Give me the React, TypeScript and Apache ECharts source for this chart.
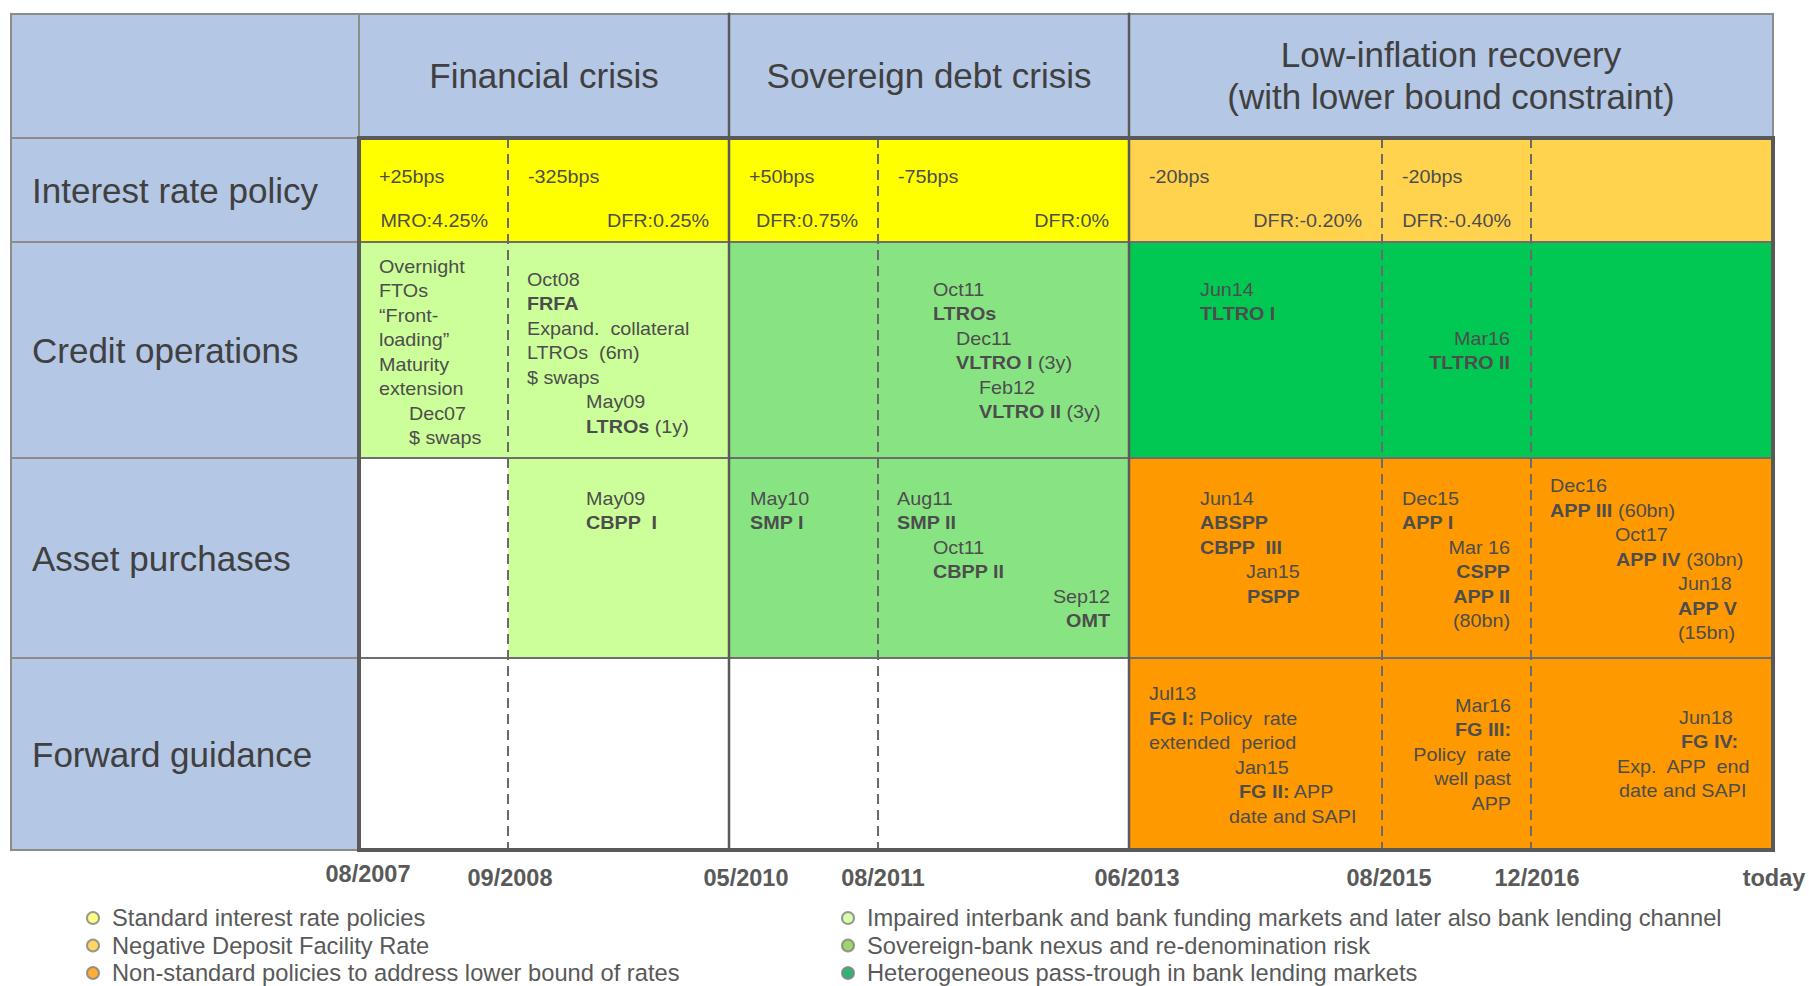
import React, { useEffect, useRef } from 'react';
import * as echarts from 'echarts';

// ---------------- data ----------------
const boundaryLabels = ['08/2007', '09/2008', '05/2010', '08/2011', '06/2013', '08/2015', '12/2016', 'today'];
const eraNames = ['Financial crisis', 'Sovereign debt crisis', 'Low-inflation recovery\n(with lower bound constraint)'];
const eraStarts = [0, 2, 4]; // boundary index where each era starts
const eraEnds = [2, 4, 7]; // boundary index where each era ends
const rowLabels = ['Interest rate policy', 'Credit operations', 'Asset purchases', 'Forward guidance'];

const rateMoves = ['+25bps', '-325bps', '+50bps', '-75bps', '-20bps', '-20bps', ''];
const rateLevels = ['MRO:4.25%', 'DFR:0.25%', 'DFR:0.75%', 'DFR:0%', 'DFR:-0.20%', 'DFR:-0.40%', ''];

// colour class of each period (7 periods) for each policy row
const rateCells = ['std', 'std', 'std', 'std', 'neg', 'neg', 'neg'];
const creditCells = ['funding', 'funding', 'nexus', 'nexus', 'passThrough', 'passThrough', 'passThrough'];
const assetCells = ['none', 'funding', 'nexus', 'nexus', 'nonStd', 'nonStd', 'nonStd'];
const guidanceCells = ['none', 'none', 'none', 'none', 'nonStd', 'nonStd', 'nonStd'];

const creditNotes = [
  { period: 0, lines: ['Overnight', 'FTOs', '\u201CFront-', 'loading\u201D', 'Maturity', 'extension', 'Dec07', '$ swaps'] },
  { period: 1, lines: ['Oct08', '**FRFA**', 'Expand.  collateral', 'LTROs  (6m)', '$ swaps', 'May09', '**LTROs** (1y)'] },
  { period: 3, lines: ['Oct11', '**LTROs**', 'Dec11', '**VLTRO I** (3y)', 'Feb12', '**VLTRO II** (3y)'] },
  { period: 4, lines: ['Jun14', '**TLTRO I**'] },
  { period: 5, lines: ['Mar16', '**TLTRO II**'] },
];
const assetNotes = [
  { period: 1, lines: ['May09', '**CBPP  I**'] },
  { period: 2, lines: ['May10', '**SMP I**'] },
  { period: 3, lines: ['Aug11', '**SMP II**', 'Oct11', '**CBPP II**'] },
  { period: 3, lines: ['Sep12', '**OMT**'] },
  { period: 4, lines: ['Jun14', '**ABSPP**', '**CBPP  III**', 'Jan15', '**PSPP**'] },
  { period: 5, lines: ['Dec15', '**APP I**'] },
  { period: 5, lines: ['Mar 16', '**CSPP**', '**APP II**', '(80bn)'] },
  { period: 6, lines: ['Dec16', '**APP III** (60bn)', 'Oct17', '**APP IV** (30bn)', 'Jun18', '**APP V**', '(15bn)'] },
];
const guidanceNotes = [
  { period: 4, lines: ['Jul13', '**FG I:** Policy  rate', 'extended  period', 'Jan15', '**FG II:** APP', 'date and SAPI'] },
  { period: 5, lines: ['Mar16', '**FG III:**', 'Policy  rate', 'well past', 'APP'] },
  { period: 6, lines: ['Jun18', '**FG IV:**', 'Exp.  APP  end', 'date and SAPI'] },
];

const legendLeft = ['Standard interest rate policies', 'Negative Deposit Facility Rate', 'Non-standard policies to address lower bound of rates'];
const legendLeftKeys = ['std', 'neg', 'nonStd'];
const legendRight = ['Impaired interbank and bank funding markets and later also bank lending channel', 'Sovereign-bank nexus and re-denomination risk', 'Heterogeneous pass-trough in bank lending markets'];
const legendRightKeys = ['funding', 'nexus', 'passThrough'];

// ---------------- layout & style ----------------
const FONT = "'Liberation Sans', Arial, Helvetica, sans-serif";
const COL_W = [348, 149, 221, 149, 251, 253, 149, 242];
const ROW_H = [124, 104, 216, 200, 192];
const LINE = 24.5;
const PAD = 20;
const SMALL = 19;
const SX = 1.04;
const LEGEND_LEFT_X = [86, 841];
const LEGEND_TOP = 906;
const LEGEND_STEP = 27.5;
const LEGEND_FONT = 23.7;
const TICK_FONT = 23.5;
const TICK_SHIFT = [9, 2, 17, 5, 8, 7, 6, 1]; // horizontal nudge of each boundary label
const TICK_DROP = [0, 4, 4, 4, 4, 4, 4, 4]; // vertical nudge of each boundary label

const NOTE_LAYOUT: Record<string, { dy: number; dx: number[]; right?: boolean }[]> = {
  credit: [
    { dy: 24, dx: [20, 20, 20, 20, 20, 20, 50, 50] },
    { dy: 37, dx: [19, 19, 19, 19, 19, 78, 78] },
    { dy: 47, dx: [55, 55, 78, 78, 101, 101] },
    { dy: 47, dx: [71, 71] },
    { dy: 96, dx: [21, 21], right: true },
  ],
  asset: [
    { dy: 40, dx: [78, 78] },
    { dy: 40, dx: [21, 21] },
    { dy: 40, dx: [19, 19, 55, 55] },
    { dy: 138, dx: [19, 19], right: true },
    { dy: 40, dx: [71, 71, 71, 117, 118] },
    { dy: 40, dx: [20, 20] },
    { dy: 89, dx: [21, 21, 21, 21], right: true },
    { dy: 27.5, dx: [19, 19, 84, 85, 147, 147, 147] },
  ],
  guidance: [
    { dy: 35.5, dx: [20, 20, 20, 106, 110, 100] },
    { dy: 47, dx: [20, 20, 20, 20, 20], right: true },
    { dy: 59, dx: [148, 150, 86, 88] },
  ],
};

const COLORS: Record<string, string> = {
  header: '#b4c7e5',
  std: '#ffff00',
  neg: '#ffd34e',
  funding: '#ccff99',
  nexus: '#88e483',
  passThrough: '#00c853',
  nonStd: '#ff9900',
  none: '#ffffff',
};
const LEGEND_COLORS: Record<string, string> = {
  std: '#ffff66',
  neg: '#ffcc40',
  nonStd: '#ff9900',
  funding: '#ccff99',
  nexus: '#8cc84b',
  passThrough: '#00a04e',
};
const LINE_STYLES: Record<string, { stroke: string; w: number; dash?: number[] }> = {
  thin: { stroke: '#8c8c8c', w: 2 },
  row: { stroke: '#6e6e6e', w: 2 },
  dash: { stroke: '#6a6a6a', w: 2, dash: [10, 6] },
  era: { stroke: '#5a5a5a', w: 2.5 },
  frame: { stroke: '#595959', w: 4 },
};

// ---------------- derived geometry (axis units) ----------------
const cum = (arr: number[]) => arr.reduce((acc: number[], w) => { acc.push(acc[acc.length - 1] + w); return acc; }, [0]);
const X = cum(COL_W);
const Y = cum(ROW_H);
const bx = (k: number) => X[k + 1];
const boundaryValues = boundaryLabels.map((_, k) => bx(k));

type Cell = { v: number[]; c: string };
const cells: Cell[] = [];
cells.push({ v: [0, Y[0], X[8], Y[1]], c: COLORS.header });
cells.push({ v: [0, Y[1], X[1], Y[5]], c: COLORS.header });
[rateCells, creditCells, assetCells, guidanceCells].forEach((row, r) =>
  row.forEach((key, p) => cells.push({ v: [bx(p), Y[r + 1], bx(p + 1), Y[r + 2]], c: COLORS[key] }))
);

type Ln = { v: number[]; s: string };
const lines: Ln[] = [];
lines.push({ v: [0, 0, X[8], 0], s: 'thin' });
lines.push({ v: [0, 0, 0, Y[5]], s: 'thin' });
lines.push({ v: [X[8], 0, X[8], Y[1]], s: 'thin' });
lines.push({ v: [0, Y[5], X[1], Y[5]], s: 'thin' });
for (let r = 1; r <= 4; r++) lines.push({ v: [0, Y[r], X[1], Y[r]], s: 'thin' });
lines.push({ v: [X[1], 0, X[1], Y[1]], s: 'thin' });
for (let r = 2; r <= 4; r++) lines.push({ v: [X[1], Y[r], X[8], Y[r]], s: 'row' });
const eraBounds = eraStarts.slice(1);
for (let k = 1; k <= 6; k++) {
  if (!eraBounds.includes(k)) lines.push({ v: [bx(k), Y[1], bx(k), Y[5]], s: 'dash' });
}
eraBounds.forEach((k) => lines.push({ v: [bx(k), 0, bx(k), Y[5]], s: 'era' }));
lines.push({ v: [X[1], Y[1], X[8], Y[1]], s: 'frame' });
lines.push({ v: [X[1], Y[5], X[8], Y[5]], s: 'frame' });
lines.push({ v: [X[1], Y[1], X[1], Y[5]], s: 'frame' });
lines.push({ v: [X[8], Y[1], X[8], Y[5]], s: 'frame' });

type Txt = { v: number[]; text: string; align: string; size: number; color: string; sx: number; lh?: number };
const texts: Txt[] = [];
eraNames.forEach((name, e) =>
  texts.push({ v: [(bx(eraStarts[e]) + bx(eraEnds[e])) / 2, (Y[0] + Y[1]) / 2 - 1], text: name, align: 'center', size: 35, color: '#404040', sx: 1, lh: 42 })
);
rowLabels.forEach((name, r) =>
  texts.push({ v: [21, (Y[r + 1] + Y[r + 2]) / 2], text: name, align: 'left', size: 35, color: '#404040', sx: 1 })
);
rateMoves.forEach((t, p) => {
  if (t) texts.push({ v: [bx(p) + PAD, Y[1] + 38], text: t, align: 'left', size: SMALL, color: '#4d4d4d', sx: SX });
});
rateLevels.forEach((t, p) => {
  if (t) texts.push({ v: [bx(p + 1) - PAD, Y[1] + 82], text: t, align: 'right', size: SMALL, color: '#4d4d4d', sx: SX });
});
const addNotes = (notes: { period: number; lines: string[] }[], layout: typeof NOTE_LAYOUT.credit, row: number) => {
  notes.forEach((n, i) => {
    const L = layout[i];
    n.lines.forEach((t, j) => {
      const x = L.right ? bx(n.period + 1) - L.dx[j] : bx(n.period) + L.dx[j];
      texts.push({ v: [x, Y[row] + L.dy + j * LINE], text: t, align: L.right ? 'right' : 'left', size: SMALL, color: '#4d4d4d', sx: SX });
    });
  });
};
addNotes(creditNotes, NOTE_LAYOUT.credit, 2);
addNotes(assetNotes, NOTE_LAYOUT.asset, 3);
addNotes(guidanceNotes, NOTE_LAYOUT.guidance, 4);

const toRich = (s: string) =>
  s.split('**').map((p, i) => (p ? `{${i % 2 ? 'b' : 'n'}|${p}}` : '')).join('');

const tickRich: Record<string, any> = {};
TICK_SHIFT.forEach((s, k) => {
  tickRich['t' + k] = {
    fontSize: TICK_FONT,
    fontWeight: 'bold',
    fontFamily: FONT,
    color: '#595959',
    padding: [TICK_DROP[k], 0, 0, 2 * s],
  };
});

const legendOf = (name: string, col: number, row: number) => ({
  left: LEGEND_LEFT_X[col],
  top: LEGEND_TOP + row * LEGEND_STEP,
  padding: 0,
  orient: 'horizontal',
  itemWidth: 28,
  itemHeight: 12,
  icon: 'circle',
  selectedMode: false,
  data: [name],
  textStyle: { fontSize: LEGEND_FONT, color: '#595959', fontFamily: FONT, lineHeight: 24 },
});

const option: any = {
  animation: false,
  backgroundColor: '#ffffff',
  grid: { left: 11, right: 36, top: 14, bottom: 136, outerBoundsMode: 'none' },
  xAxis: {
    type: 'value',
    min: 0,
    max: X[8],
    axisLine: { show: false },
    axisTick: { show: false },
    splitLine: { show: false },
    axisLabel: {
      customValues: boundaryValues,
      formatter: (v: number) => {
        const k = boundaryValues.findIndex((b) => Math.abs(b - v) < 0.5);
        return k >= 0 ? `{t${k}|${boundaryLabels[k]}}` : '';
      },
      fontSize: TICK_FONT,
      fontWeight: 'bold',
      color: '#595959',
      fontFamily: FONT,
      margin: 12,
      rich: tickRich,
    },
  },
  yAxis: { type: 'value', min: 0, max: Y[5], inverse: true, show: false },
  legend: [
    ...legendLeft.map((n, i) => legendOf(n, 0, i)),
    ...legendRight.map((n, i) => legendOf(n, 1, i)),
  ],
  series: [
    {
      type: 'custom', name: 'cells', z: 1, silent: true,
      data: cells.map((c) => c.v),
      renderItem: (params: any, api: any) => {
        const a = api.coord([api.value(0), api.value(1)]);
        const b = api.coord([api.value(2), api.value(3)]);
        return {
          type: 'rect',
          shape: { x: a[0], y: a[1], width: b[0] - a[0], height: b[1] - a[1] },
          style: { fill: cells[params.dataIndex].c },
        };
      },
    },
    {
      type: 'custom', name: 'rules', z: 2, silent: true,
      data: lines.map((l) => l.v),
      renderItem: (params: any, api: any) => {
        const st = LINE_STYLES[lines[params.dataIndex].s];
        const a = api.coord([api.value(0), api.value(1)]);
        const b = api.coord([api.value(2), api.value(3)]);
        return {
          type: 'line',
          shape: { x1: a[0], y1: a[1], x2: b[0], y2: b[1] },
          style: { stroke: st.stroke, lineWidth: st.w, lineDash: st.dash || null, lineCap: st.dash ? 'butt' : 'square' },
        };
      },
    },
    {
      type: 'custom', name: 'texts', z: 3, silent: true,
      data: texts.map((t) => t.v),
      renderItem: (params: any, api: any) => {
        const t = texts[params.dataIndex];
        const p = api.coord([api.value(0), api.value(1)]);
        const base = { fontSize: t.size, fontFamily: FONT, fill: t.color };
        return {
          type: 'text',
          x: p[0],
          y: p[1],
          scaleX: t.sx,
          style: {
            text: toRich(t.text),
            align: t.align,
            verticalAlign: 'middle',
            fontSize: t.size,
            fontFamily: FONT,
            fill: t.color,
            lineHeight: t.lh,
            rich: {
              n: { ...base, lineHeight: t.lh },
              b: { ...base, fontWeight: 'bold', lineHeight: t.lh },
            },
          },
        };
      },
    },
    ...legendLeft.map((name, i) => ({
      type: 'scatter', name, data: [],
      itemStyle: { color: LEGEND_COLORS[legendLeftKeys[i]], borderColor: '#7f7f7f', borderWidth: 1 },
    })),
    ...legendRight.map((name, i) => ({
      type: 'scatter', name, data: [],
      itemStyle: { color: LEGEND_COLORS[legendRightKeys[i]], borderColor: '#7f7f7f', borderWidth: 1 },
    })),
  ],
};

export default function App() {
  const ref = useRef<HTMLDivElement>(null);
  useEffect(() => {
    const chart = echarts.init(ref.current!, null, { renderer: 'svg' });
    chart.setOption(option);
    return () => chart.dispose();
  }, []);
  return (
    <div
      ref={ref}
      style={{ position: 'fixed', left: 0, top: 0, width: '1809px', height: '986px', background: '#ffffff' }}
    />
  );
}
